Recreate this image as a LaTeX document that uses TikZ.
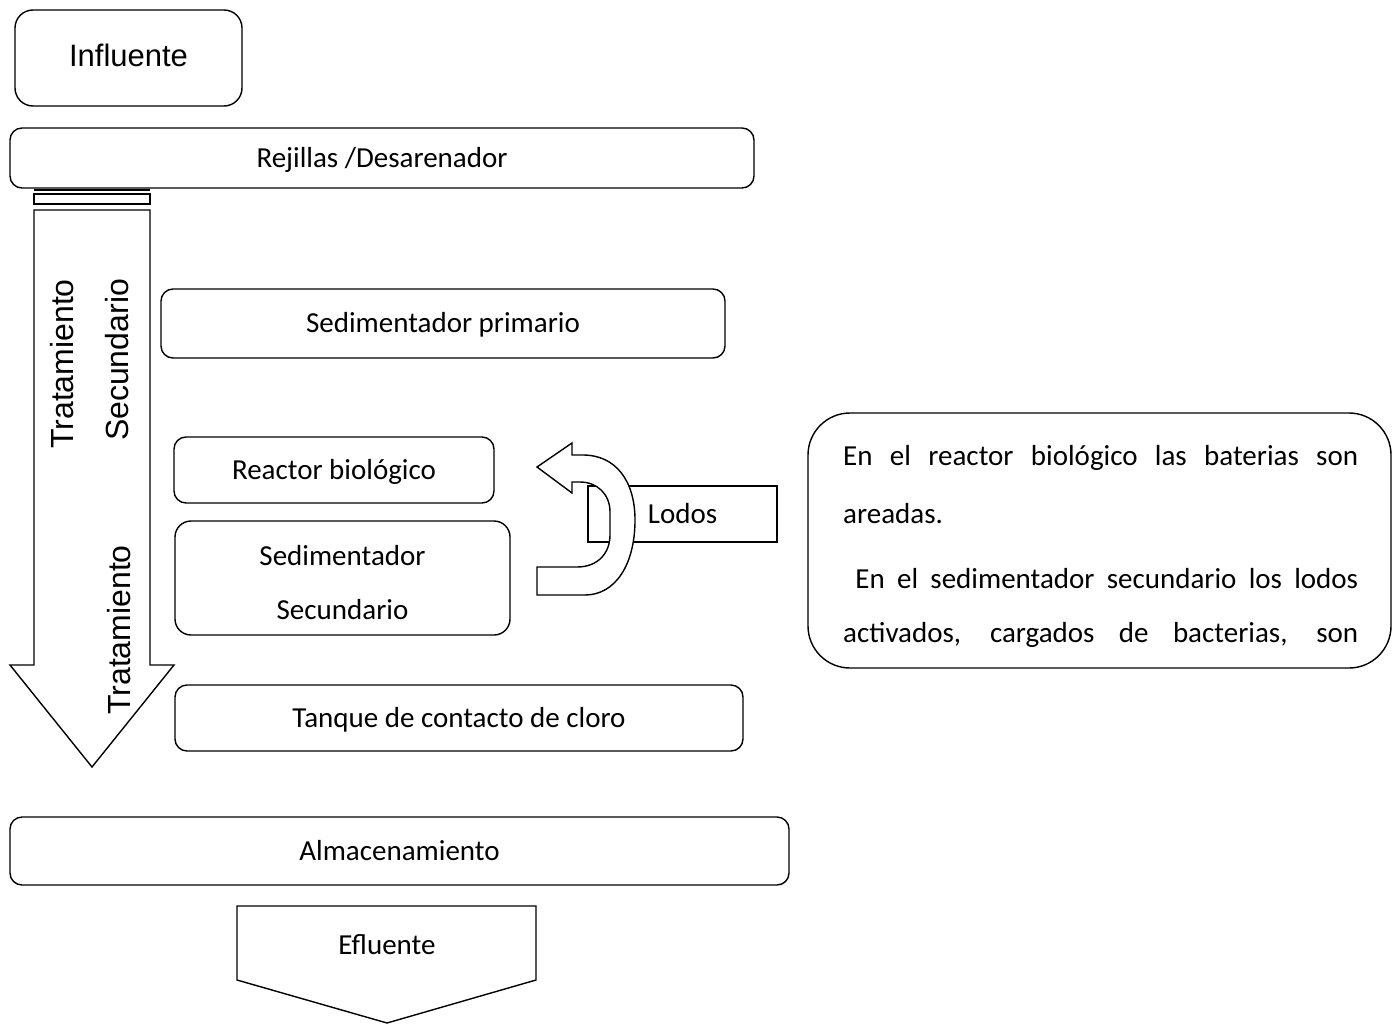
\documentclass[tikz,border=0pt]{standalone}
\usepackage{fontspec}
\setmainfont{Carlito}
\newfontfamily\arialf{Liberation Sans}
\begin{document}
\begin{tikzpicture}[x=1pt,y=-1pt,
  lw/.style={line width=1.4pt},
  rbox/.style={draw, lw, rounded corners=12pt, fill=white, inner sep=0pt, align=center, text height=22pt, text depth=4pt, font=\fontsize{29}{54}\selectfont},
  shapeline/.style={draw, lw, fill=white, line join=miter},
  arialtxt/.style={font=\arialf\fontsize{32}{36}\selectfont, inner sep=0pt}]
\useasboundingbox (0,0) rectangle (1396,1025);

% big downward arrow
\draw[shapeline] (34,210) -- (150,210) -- (150,665) -- (174,665) -- (92,767) -- (10,665) -- (34,665) -- cycle;
\draw[shapeline] (34,194) rectangle (150,204);

\node[arialtxt, rotate=90] (trat1) at (62,364) {Tratamiento};
\node[arialtxt, rotate=90] (secu) at (117,360) {Secundario};
\node[arialtxt, rotate=90] (trat2) at (119,630) {Tratamiento};

% boxes
\node[rbox, rounded corners=18pt, minimum width=227pt, minimum height=96pt] (infl) at (128.5,58) {};
\node[font=\arialf\fontsize{31}{34}\selectfont, inner sep=0pt] (infltxt) at (128.5,55) {Influente};
\node[rbox, minimum width=744pt, minimum height=60pt] (rej) at (382,158) {Rejillas /Desarenador};
\draw[line width=2.5pt] (34,190) -- (150,190);
\node[rbox, minimum width=564pt, minimum height=69pt] (sedp) at (443,323.5) {Sedimentador primario};
\node[rbox, minimum width=320pt, minimum height=66pt] (reac) at (334,470) {Reactor biológico};
\node[rbox, rounded corners=16pt, minimum width=335pt, minimum height=114pt] (seds) at (342.5,578) {};
\node[align=center, inner sep=0pt, font=\fontsize{29}{54}\selectfont] (sedstxt) at (342.5,583) {Sedimentador\\Secundario};
\node[rbox, minimum width=568pt, minimum height=66pt] (tanq) at (459,718) {Tanque de contacto de cloro};
\node[rbox, minimum width=779pt, minimum height=68pt] (alma) at (399.5,851) {Almacenamiento};

% Efluente pentagon arrow
\draw[shapeline] (237,906) -- (536,906) -- (536,980) -- (387,1023) -- (237,980) -- cycle;
\node[font=\fontsize{29}{34}\selectfont, inner sep=0pt] (eflu) at (387,945) {Efluente};

% Lodos rectangle
\node[draw, lw, minimum width=189pt, minimum height=56pt, inner sep=0pt, font=\fontsize{29}{34}\selectfont] (lodos) at (682.5,514) {Lodos};

% U-turn arrow
\draw[shapeline] (537,467) -- (572,443) -- (572,455) -- (583,455)
  .. controls (615,455) and (635,480) .. (635,520)
  .. controls (635,565) and (615,595) .. (585,595)
  -- (537,595) -- (537,567) -- (577,567)
  .. controls (598,567) and (610,553) .. (610,535)
  -- (610,512)
  .. controls (610,494) and (597,482) .. (580,482)
  -- (572,482) -- (572,493) -- cycle;

% right text box
\node[draw, lw, rounded corners=42pt, minimum width=583pt, minimum height=255pt, inner sep=0pt] (note) at (1099.5,540.5) {};
\node[anchor=north west, inner sep=0pt, font=\fontsize{29}{58}\selectfont, align=left] (notetxt) at (843,445)
 {\makebox[515pt][s]{En el reactor biológico las baterias son}\\
  areadas.\\[7pt]
  \makebox[515pt][s]{\ En el sedimentador secundario los lodos}\\[-4pt]
  \makebox[515pt][s]{activados, cargados de bacterias, son}};
\end{tikzpicture}
\end{document}
